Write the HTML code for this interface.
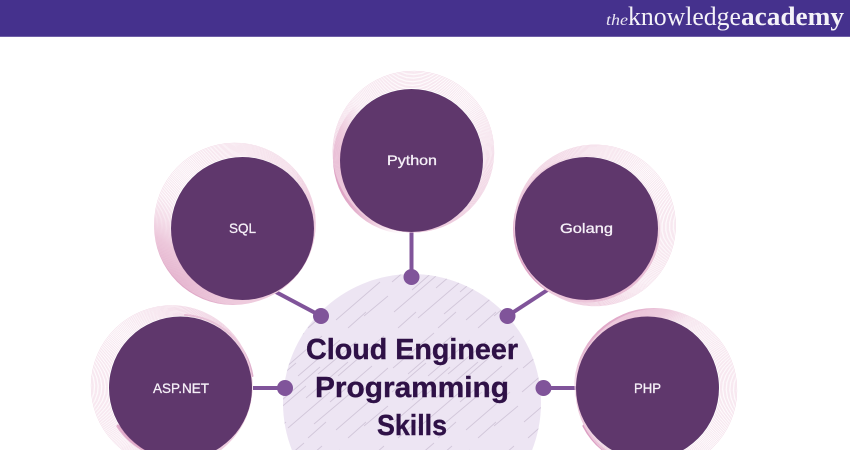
<!DOCTYPE html>
<html>
<head>
<meta charset="utf-8">
<style>
html,body{margin:0;padding:0;background:#fff;width:850px;height:450px;overflow:hidden}
svg{display:block}
.lab{font-family:"Liberation Sans",sans-serif;font-size:14px;fill:#f6f0f8;stroke:#f6f0f8;stroke-width:.3}
.title{font-family:"Liberation Sans",sans-serif;font-weight:bold;font-size:29px;fill:#2f1147;stroke:#2f1147;stroke-width:.4}
</style>
</head>
<body>
<svg width="850" height="450" viewBox="0 0 850 450" xmlns="http://www.w3.org/2000/svg">
<defs>
  <clipPath id="frame"><rect x="0" y="0" width="850" height="450"/></clipPath>
  <g id="rings" fill="none" stroke="#eecbdd" stroke-width="0.4">
    <circle cx="0.7" cy="0" r="72.2"/><circle cx="1.4" cy="0" r="72.9"/>
    <circle cx="2.1" cy="0" r="73.6"/><circle cx="2.8" cy="0" r="74.3"/>
    <circle cx="3.5" cy="0" r="75"/><circle cx="4.2" cy="0" r="75.7"/>
    <circle cx="4.9" cy="0" r="76.4"/><circle cx="5.6" cy="0" r="77.1"/>
    <circle cx="6.3" cy="0" r="77.8"/><circle cx="7" cy="0" r="78.5"/>
    <circle cx="7.7" cy="0" r="79.2"/><circle cx="8.4" cy="0" r="79.9"/>
    <circle cx="9" cy="0" r="80.6"/>
  </g>
  <pattern id="hatch" width="130" height="110" patternUnits="userSpaceOnUse">
    <g stroke="#d2c7da" stroke-width="0.9" fill="none">
      <path d="M3 38L44 3M18 44L62 6M38 46L80 10M58 44L96 12M78 46L124 6"/>
      <path d="M2 62L36 33M22 70L60 37M46 68L88 32M70 72L112 36M96 66L128 38"/>
      <path d="M4 92L46 56M28 98L70 62M54 94L92 62M76 100L120 62M104 96L128 76"/>
      <path d="M8 108L26 92M48 108L66 92M88 108L106 92"/>
    </g>
  </pattern>
  <linearGradient id="gPy" x1="0" y1="0.6" x2="0.3" y2="0.5">
    <stop offset="0" stop-color="#dd9fc2"/><stop offset="0.45" stop-color="#edc9dc"/><stop offset="1" stop-color="#f7e6ef" stop-opacity="0"/>
  </linearGradient>
  <linearGradient id="gSq" x1="0.1" y1="0.92" x2="0.38" y2="0.55">
    <stop offset="0" stop-color="#d999bd"/><stop offset="0.5" stop-color="#ecc6da"/><stop offset="1" stop-color="#f7e6ef" stop-opacity="0"/>
  </linearGradient>
  <linearGradient id="gGo" x1="0.2" y1="1" x2="0.7" y2="0">
    <stop offset="0" stop-color="#dd9fc2"/><stop offset="0.65" stop-color="#ecc6da"/><stop offset="1" stop-color="#f7e6ef" stop-opacity="0"/>
  </linearGradient>
  <linearGradient id="gPh" x1="0.35" y1="0" x2="0.5" y2="0.22">
    <stop offset="0" stop-color="#e0a8c8"/><stop offset="0.55" stop-color="#efcfe0"/><stop offset="1" stop-color="#f7e6ef" stop-opacity="0"/>
  </linearGradient>
</defs>

<g clip-path="url(#frame)">
<!-- header -->
<rect x="0" y="0" width="850" height="37" fill="#45318d"/>
<rect x="0" y="36" width="850" height="1" fill="#6e5fa6"/>
<text x="606" y="25" font-family="'Liberation Serif',serif" font-style="italic" font-size="16" fill="#e9e5f2" textLength="22" lengthAdjust="spacingAndGlyphs">the</text>
<text x="628" y="25" font-family="'Liberation Serif',serif" font-size="26" fill="#f4f2f8" textLength="113" lengthAdjust="spacingAndGlyphs">knowledge</text>
<text x="741" y="25" font-family="'Liberation Serif',serif" font-weight="bold" font-size="26" fill="#f4f2f8" textLength="103" lengthAdjust="spacingAndGlyphs">academy</text>

<!-- centre -->
<circle cx="412" cy="403" r="129" fill="#ede5f3"/>
<circle cx="412" cy="403" r="129" fill="url(#hatch)"/>

<!-- connectors -->
<g stroke="#80549a" stroke-width="4" fill="none">
  <line x1="411.5" y1="232" x2="411.5" y2="277"/>
  <line x1="274" y1="291" x2="321" y2="316"/>
  <line x1="549" y1="289" x2="507.5" y2="316"/>
  <line x1="253" y1="388" x2="285" y2="388"/>
  <line x1="543" y1="388" x2="577" y2="388"/>
</g>
<g fill="#80549a">
  <circle cx="411.5" cy="277" r="8"/>
  <circle cx="321" cy="316" r="8"/>
  <circle cx="507.5" cy="316" r="8"/>
  <circle cx="285" cy="388" r="8"/>
  <circle cx="543.5" cy="388" r="8"/>
</g>

<!-- crescents -->
<circle cx="408" cy="159" r="75" fill="url(#gPy)"/>
<circle cx="233" cy="226" r="79" fill="url(#gSq)"/>
<circle cx="586.5" cy="229" r="73.5" fill="url(#gGo)"/>
<circle cx="654" cy="388" r="80" fill="url(#gPh)"/>
<g fill="none" stroke-linecap="round">
  <path d="M185 315A73 73 0 0 1 252.5 376" stroke="#dfb0cd" stroke-width="2"/>
  <path d="M118 426A73 73 0 0 0 150 453" stroke="#dc9fc3" stroke-width="3"/>
  <path d="M584 426A73 73 0 0 0 608 453" stroke="#dc9fc3" stroke-width="3"/>
</g>

<!-- rings -->
<use href="#rings" transform="translate(411.5 160.5) rotate(-78)"/>
<use href="#rings" transform="translate(242.5 228.5) rotate(-147)"/>
<use href="#rings" transform="translate(586.5 228.5) rotate(-20)"/>
<use href="#rings" transform="translate(180.5 388) rotate(-168)"/>
<use href="#rings" transform="translate(647.5 388) rotate(12)"/>

<!-- dark circles -->
<g fill="#5f376c">
  <circle cx="411.5" cy="160.5" r="71.5"/>
  <circle cx="242.5" cy="228.5" r="71.5"/>
  <circle cx="586.5" cy="228.5" r="71.5"/>
  <circle cx="180.5" cy="388" r="71.5"/>
  <circle cx="647.5" cy="388" r="71.5"/>
</g>

<!-- labels -->
<text class="lab" x="387" y="165" textLength="50" lengthAdjust="spacingAndGlyphs">Python</text>
<text class="lab" x="229" y="233" textLength="27" lengthAdjust="spacingAndGlyphs">SQL</text>
<text class="lab" x="560" y="233" textLength="53" lengthAdjust="spacingAndGlyphs">Golang</text>
<text class="lab" x="153" y="393" textLength="56" lengthAdjust="spacingAndGlyphs">ASP.NET</text>
<text class="lab" x="634" y="393" textLength="27" lengthAdjust="spacingAndGlyphs">PHP</text>

<text class="title" x="306" y="359" textLength="212" lengthAdjust="spacingAndGlyphs">Cloud Engineer</text>
<text class="title" x="315" y="397" textLength="194" lengthAdjust="spacingAndGlyphs">Programming</text>
<text class="title" x="377" y="435" textLength="70" lengthAdjust="spacingAndGlyphs">Skills</text>
</g>
</svg>
</body>
</html>
